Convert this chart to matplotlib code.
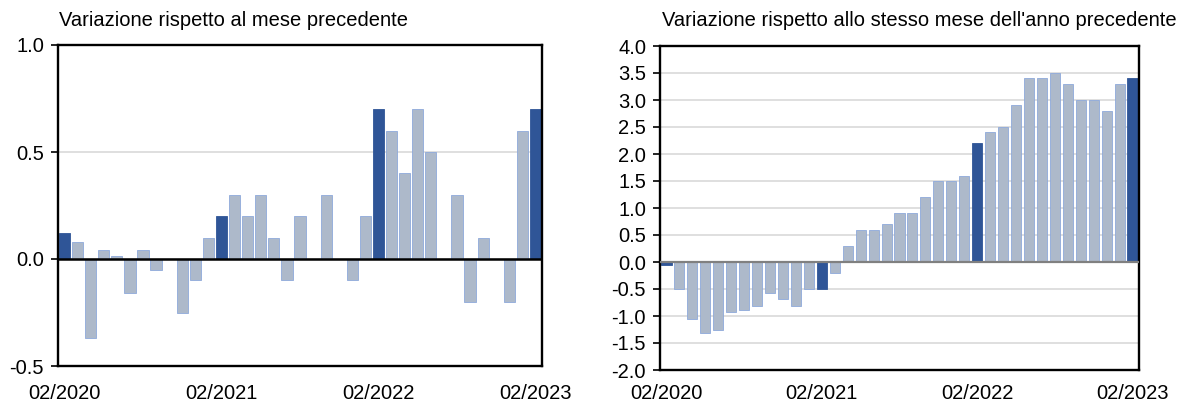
import matplotlib
matplotlib.use("Agg")
import matplotlib.pyplot as plt
import numpy as np

plt.rcParams['font.family'] = ['Liberation Sans', 'DejaVu Sans']

# months from 02/2020 to 02/2023 (37 bars)
months = ['02/2020', '03/2020', '04/2020', '05/2020', '06/2020', '07/2020', '08/2020',
          '09/2020', '10/2020', '11/2020', '12/2020', '01/2021', '02/2021', '03/2021',
          '04/2021', '05/2021', '06/2021', '07/2021', '08/2021', '09/2021', '10/2021',
          '11/2021', '12/2021', '01/2022', '02/2022', '03/2022', '04/2022', '05/2022',
          '06/2022', '07/2022', '08/2022', '09/2022', '10/2022', '11/2022', '12/2022',
          '01/2023', '02/2023']

# variazione congiunturale (m/m)
mom = [0.12, 0.08, -0.37, 0.04, 0.015, -0.16, 0.04, -0.05, 0.0, -0.25, -0.1, 0.1,
       0.2, 0.3, 0.2, 0.3, 0.1, -0.1, 0.2, 0.0, 0.3, 0.0, -0.1, 0.2,
       0.7, 0.6, 0.4, 0.7, 0.5, 0.0, 0.3, -0.2, 0.1, 0.0, -0.2, 0.6,
       0.7]

# variazione tendenziale (a/a)
yoy = [-0.05, -0.5, -1.05, -1.32, -1.25, -0.92, -0.88, -0.81, -0.57, -0.69, -0.81, -0.5,
       -0.5, -0.2, 0.3, 0.6, 0.6, 0.7, 0.9, 0.9, 1.2, 1.5, 1.5, 1.6,
       2.2, 2.4, 2.5, 2.9, 3.4, 3.4, 3.5, 3.3, 3.0, 3.0, 2.8, 3.3,
       3.4]

tick_labels = ['02/2020', '02/2021', '02/2022', '02/2023']

dark = '#2F5597'
light = '#ADB9CA'
light_edge = '#8EA9DB'

x = np.arange(len(months))
colors = [dark if m.startswith('02/') else light for m in months]
edges = [dark if m.startswith('02/') else light_edge for m in months]
tick_pos = [i for i, m in enumerate(months) if m in tick_labels]

W, H = 1182, 403
fig = plt.figure(figsize=(W / 100, H / 100), dpi=100)


def px_axes(x0, y0, x1, y1):
    return fig.add_axes([x0 / W, 1 - y1 / H, (x1 - x0) / W, (y1 - y0) / H])


def style(ax, ylim, yticks, zero_color, zero_lw, xpad):
    ax.set_xlim(-0.5, len(months) - 0.5)
    ax.set_ylim(*ylim)
    ax.set_yticks(yticks)
    ax.set_yticklabels(['%.1f' % t for t in yticks])
    ax.set_xticks(tick_pos)
    ax.set_xticklabels(tick_labels)
    ax.tick_params(axis='y', length=5, width=1.2, direction='out', labelsize=14.5, pad=5)
    ax.tick_params(axis='x', length=0, labelsize=14.5, pad=xpad)
    for s in ax.spines.values():
        s.set_color('black')
        s.set_linewidth(1.7)
    ax.grid(axis='y', color='#D9D9D9', linewidth=1.2)
    ax.set_axisbelow(True)
    ax.axhline(0, color=zero_color, linewidth=zero_lw, zorder=3)


# left: m/m
ax1 = px_axes(58, 45, 542, 366)
ax1.bar(x, mom, width=0.86, color=colors, edgecolor=edges, linewidth=0.6, zorder=2)
style(ax1, (-0.5, 1.0), [-0.5, 0.0, 0.5, 1.0], 'black', 1.8, 13)
fig.text(59 / W, 1 - 21 / H, 'Variazione rispetto al mese precedente', fontsize=14.5,
         ha='left', va='center')

# right: a/a
ax2 = px_axes(660, 46, 1139, 370)
ax2.bar(x, yoy, width=0.78, color=colors, edgecolor=edges, linewidth=0.6, zorder=2)
style(ax2, (-2.0, 4.0), np.arange(-2.0, 4.01, 0.5), '#808080', 1.6, 10)
fig.text(662 / W, 1 - 21 / H, "Variazione rispetto allo stesso mese dell'anno precedente",
         fontsize=14.5, ha='left', va='center')

fig.savefig('out.png', dpi=100)
